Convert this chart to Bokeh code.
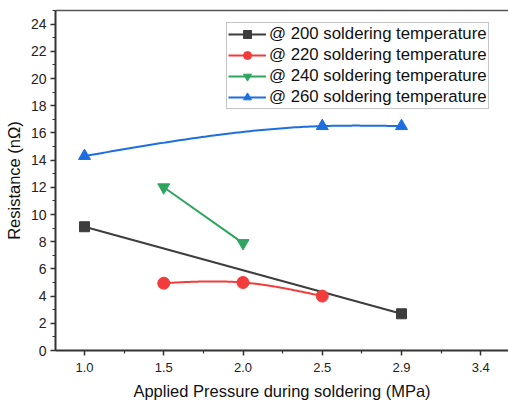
import numpy as np
from bokeh.plotting import figure
from bokeh.models import (FixedTicker, SingleIntervalTicker, Range1d, LinearAxis,
                          Legend, LegendItem)
from bokeh.embed import file_html
from bokeh.resources import INLINE

# ---- data ----
x_tick_labels = ["1.0", "1.5", "2.0", "2.5", "2.9", "3.4"]

x_200 = ["1.0", "2.9"]
y_200 = [9.1, 2.7]

x_220 = ["1.5", "2.0", "2.5"]
y_220 = [4.95, 5.0, 4.0]

x_240 = ["1.5", "2.0"]
y_240 = [12.0, 7.9]

x_260 = ["1.0", "2.5", "2.9"]
y_260 = [14.3, 16.5, 16.5]

labels = ["@ 200 soldering temperature", "@ 220 soldering temperature",
          "@ 240 soldering temperature", "@ 260 soldering temperature"]
colors = ["#3d3d3d", "#f23c3c", "#2ea55e", "#1d6fe0"]
markers = ["square", "circle", "inverted_triangle", "triangle"]
smooth = [False, True, False, True]


def to_idx(xs):
    return [x_tick_labels.index(v) for v in xs]


def natural_spline(xs, ys, n=80):
    xs = np.asarray(xs, float)
    ys = np.asarray(ys, float)
    m = len(xs)
    if m < 3:
        return list(xs), list(ys)
    h = np.diff(xs)
    A = np.zeros((m, m))
    b = np.zeros(m)
    A[0, 0] = 1
    A[-1, -1] = 1
    for i in range(1, m - 1):
        A[i, i - 1] = h[i - 1]
        A[i, i] = 2 * (h[i - 1] + h[i])
        A[i, i + 1] = h[i]
        b[i] = 3 * ((ys[i + 1] - ys[i]) / h[i] - (ys[i] - ys[i - 1]) / h[i - 1])
    c = np.linalg.solve(A, b)
    outx, outy = [], []
    for i in range(m - 1):
        bi = (ys[i + 1] - ys[i]) / h[i] - h[i] * (2 * c[i] + c[i + 1]) / 3
        di = (c[i + 1] - c[i]) / (3 * h[i])
        t = np.linspace(0, h[i], n)
        outx.extend(list(xs[i] + t))
        outy.extend(list(ys[i] + bi * t + c[i] * t ** 2 + di * t ** 3))
    return outx, outy


p = figure(width=508, height=402, output_backend="svg", toolbar_location=None,
           x_range=Range1d(-0.366, 5.35), y_range=Range1d(0, 25),
           min_border_left=55, min_border_right=0, min_border_top=10,
           min_border_bottom=51)
p.background_fill_color = "white"
p.border_fill_color = "white"
p.outline_line_color = None
p.xgrid.grid_line_color = None
p.ygrid.grid_line_color = None

series = [(x_200, y_200), (x_220, y_220), (x_240, y_240), (x_260, y_260)]
items = []
for (xs, ys), lab, col, mk, sm in zip(series, labels, colors, markers, smooth):
    xi = to_idx(xs)
    if sm:
        lx, ly = natural_spline(xi, ys)
    else:
        lx, ly = xi, ys
    r1 = p.line(lx, ly, line_color=col, line_width=2)
    sz = 10 if mk == "square" else 12
    r2 = p.scatter(xi, ys, marker=mk, size=sz, fill_color=col, line_color=col)
    items.append(LegendItem(label=lab, renderers=[r1, r2]))

legend = Legend(items=items, location=(171, 241), padding=1, margin=0,
                spacing=1, glyph_width=38, glyph_height=20, label_height=20,
                label_standoff=3, label_text_font="Liberation Sans",
                label_text_font_size="16.8px", label_text_color="#111111",
                border_line_color="#8a8a8a", border_line_width=1,
                background_fill_color="white", background_fill_alpha=1)
p.add_layout(legend, "center")

# axes styling
xa = p.xaxis[0]
xa.ticker = FixedTicker(ticks=[0, 1, 2, 3, 4, 5],
                        minor_ticks=[0.5, 1.5, 2.5, 3.5, 4.5])
xa.major_label_overrides = {i: t for i, t in enumerate(x_tick_labels)}
xa.axis_label = "Applied Pressure during soldering (MPa)"

ya = p.yaxis[0]
ya.ticker = SingleIntervalTicker(interval=2, num_minor_ticks=2)
ya.axis_label = "Resistance (n\u03a9)"

for ax in (xa, ya):
    ax.axis_line_color = "#333333"
    ax.axis_line_width = 2
    ax.major_tick_line_color = "#333333"
    ax.minor_tick_line_color = "#333333"
    ax.major_tick_line_width = 1.5
    ax.minor_tick_line_width = 1.2
    ax.major_tick_out = 5
    ax.major_tick_in = 0
    ax.minor_tick_out = 3
    ax.minor_tick_in = 0
    ax.major_label_text_font = "Liberation Sans"
    ax.major_label_text_color = "#222222"
    ax.axis_label_text_font = "Liberation Sans"
    ax.axis_label_text_font_size = "16.5px"
    ax.axis_label_text_font_style = "normal"
    ax.axis_label_text_color = "#111111"

xa.major_label_text_font_size = "13px"
ya.major_label_text_font_size = "14px"
xa.major_label_standoff = 7
xa.axis_label_standoff = 7
ya.major_label_standoff = 4
ya.axis_label_standoff = 5

top = LinearAxis(ticker=FixedTicker(ticks=[]), axis_line_color="#555555",
                 axis_line_width=1.5, major_tick_line_color=None,
                 minor_tick_line_color=None, major_label_text_font_size="0px",
                 major_label_standoff=0)
p.add_layout(top, "above")

open("out.html", "w").write(file_html(p, INLINE))
